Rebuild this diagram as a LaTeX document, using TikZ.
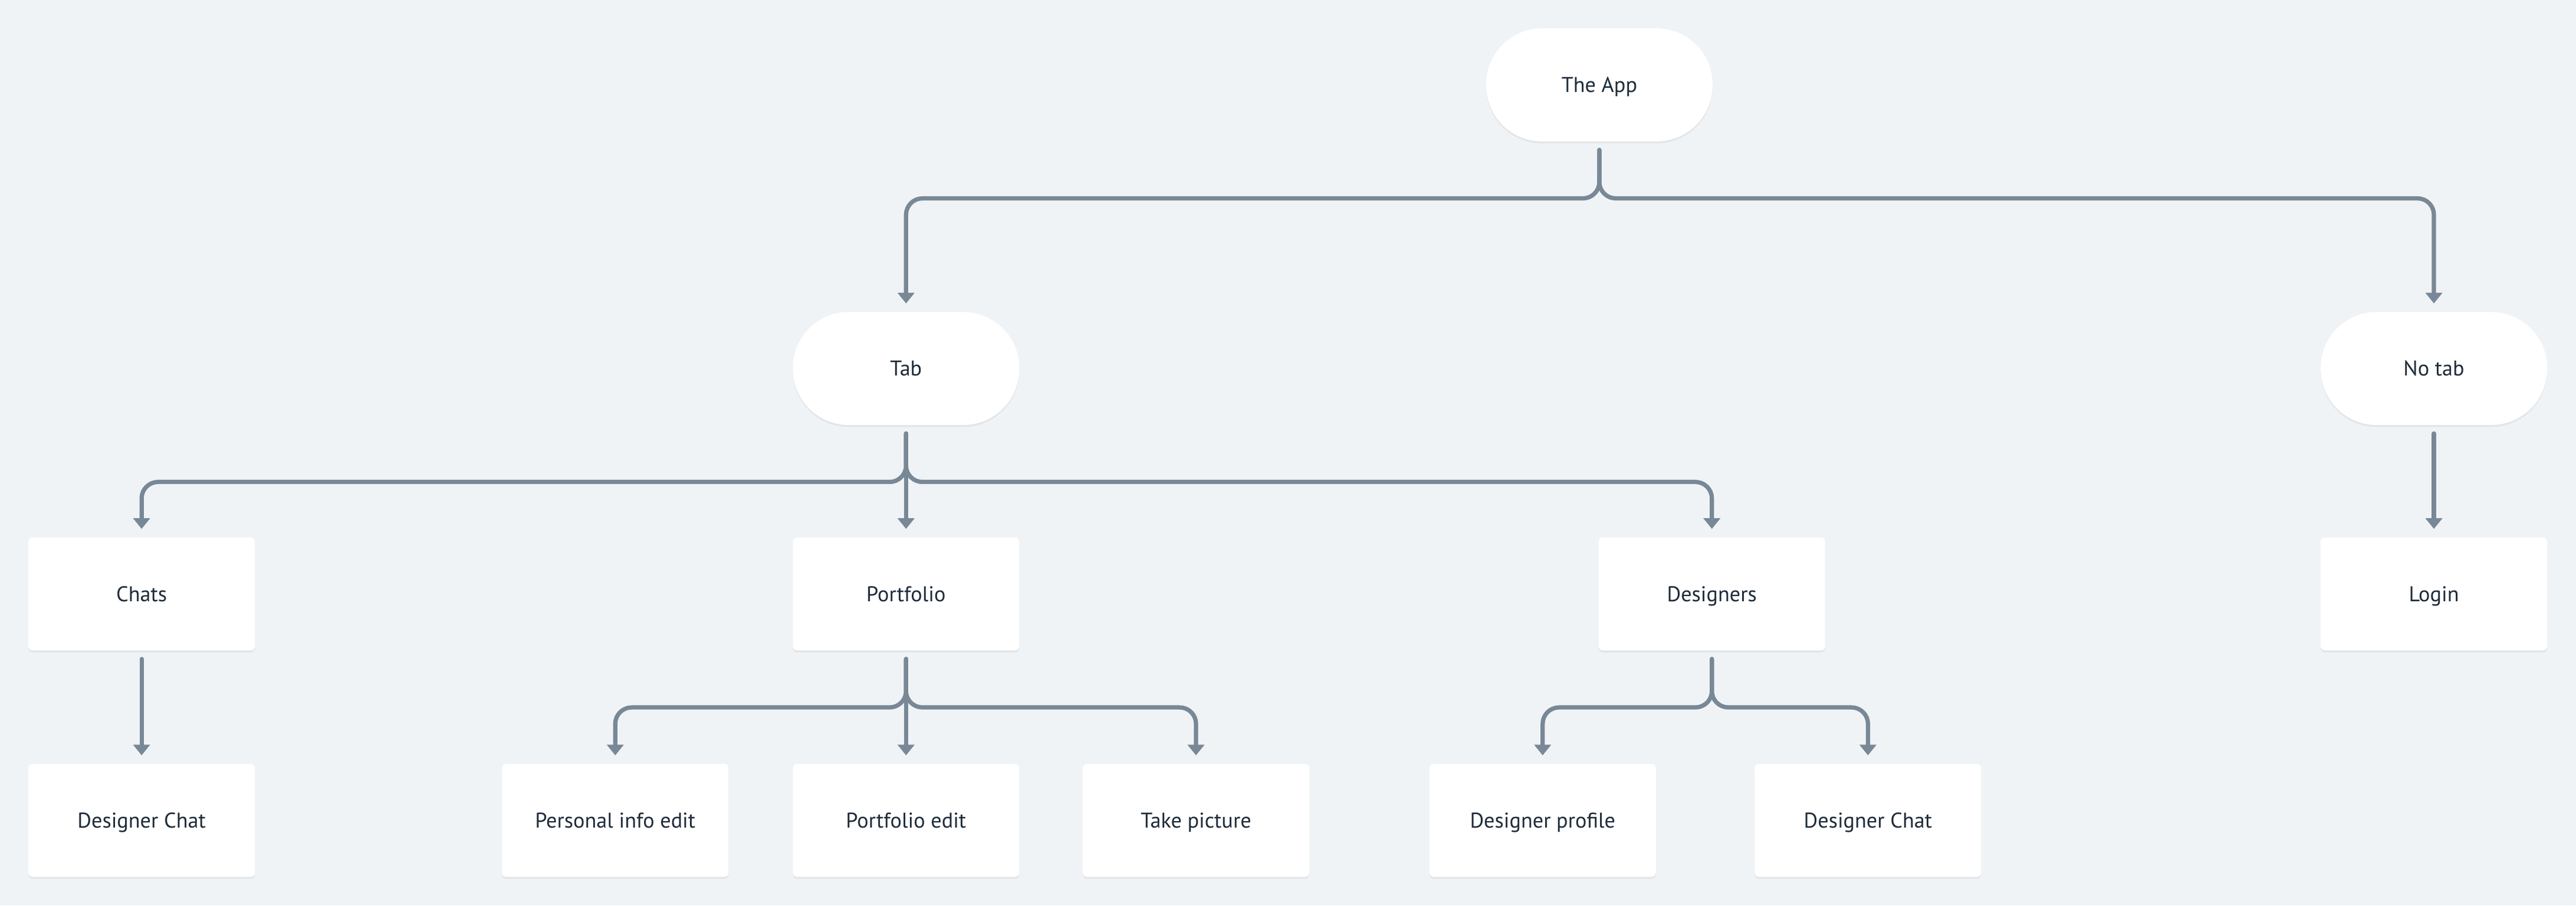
\documentclass[tikz,border=0pt]{standalone}
\usepackage{fontspec}
\setmainfont{PT Sans}
\usetikzlibrary{arrows.meta,shadows}
\definecolor{bgcol}{HTML}{F0F3F6}
\definecolor{linecol}{HTML}{788896}
\definecolor{textcol}{HTML}{1E2B3A}

\begin{document}
\begin{tikzpicture}[x=1pt,y=-1pt]
\tikzset{pill/.style = {shape=rectangle, rounded corners=34pt, fill=white, minimum width=137.8pt, minimum height=68.8pt, inner sep=0pt, text height=11pt, text depth=2pt, text=textcol, font=\fontsize{13}{15}\selectfont, drop shadow={shadow xshift=0pt, shadow yshift=-1.2pt, opacity=.05, fill=black}}}
\tikzset{card/.style = {pill, rounded corners=2.5pt}}
\tikzset{edge/.style = {->,> = {Triangle[width=10pt,length=6.5pt]}, draw=linecol, line width=2.6pt, line cap=round, rounded corners=10pt, shorten <=5pt, shorten >=5pt}}
\fill[bgcol] (0,0) rectangle (1568,551.4);

\foreach \pos/\name/\txt in {{(973.5,51.7)/app/The App}, {(551.5,224.4)/tab/Tab}, {(1481.5,224.4)/notab/No tab}}
\node[pill] (\name) at \pos {\txt};

\foreach \pos/\name/\txt in {{(86.2,361.7)/chats/Chats}, {(551.5,361.7)/portfolio/Portfolio}, {(1042,361.7)/designers/Designers}, {(1481.5,361.7)/login/Login},
  {(86.2,499.6)/chat/Designer Chat}, {(374.5,499.6)/info/Personal info edit}, {(551.5,499.6)/pedit/Portfolio edit}, {(728,499.6)/picture/Take picture},
  {(939,499.6)/profile/Designer profile}, {(1137,499.6)/dchat/Designer Chat}}
\node[card] (\name) at \pos {\txt};

% branches
\foreach \from/\to in {app/tab, app/notab, tab/chats, tab/designers, portfolio/info, portfolio/picture, designers/profile, designers/dchat}
\draw[edge] (\from.south) -- ++(0,34.5) -| (\to.north);

\foreach \from/\to in {tab/portfolio, notab/login, chats/chat, portfolio/pedit}
\draw[edge] (\from) -- (\to);
\end{tikzpicture}
\end{document}
